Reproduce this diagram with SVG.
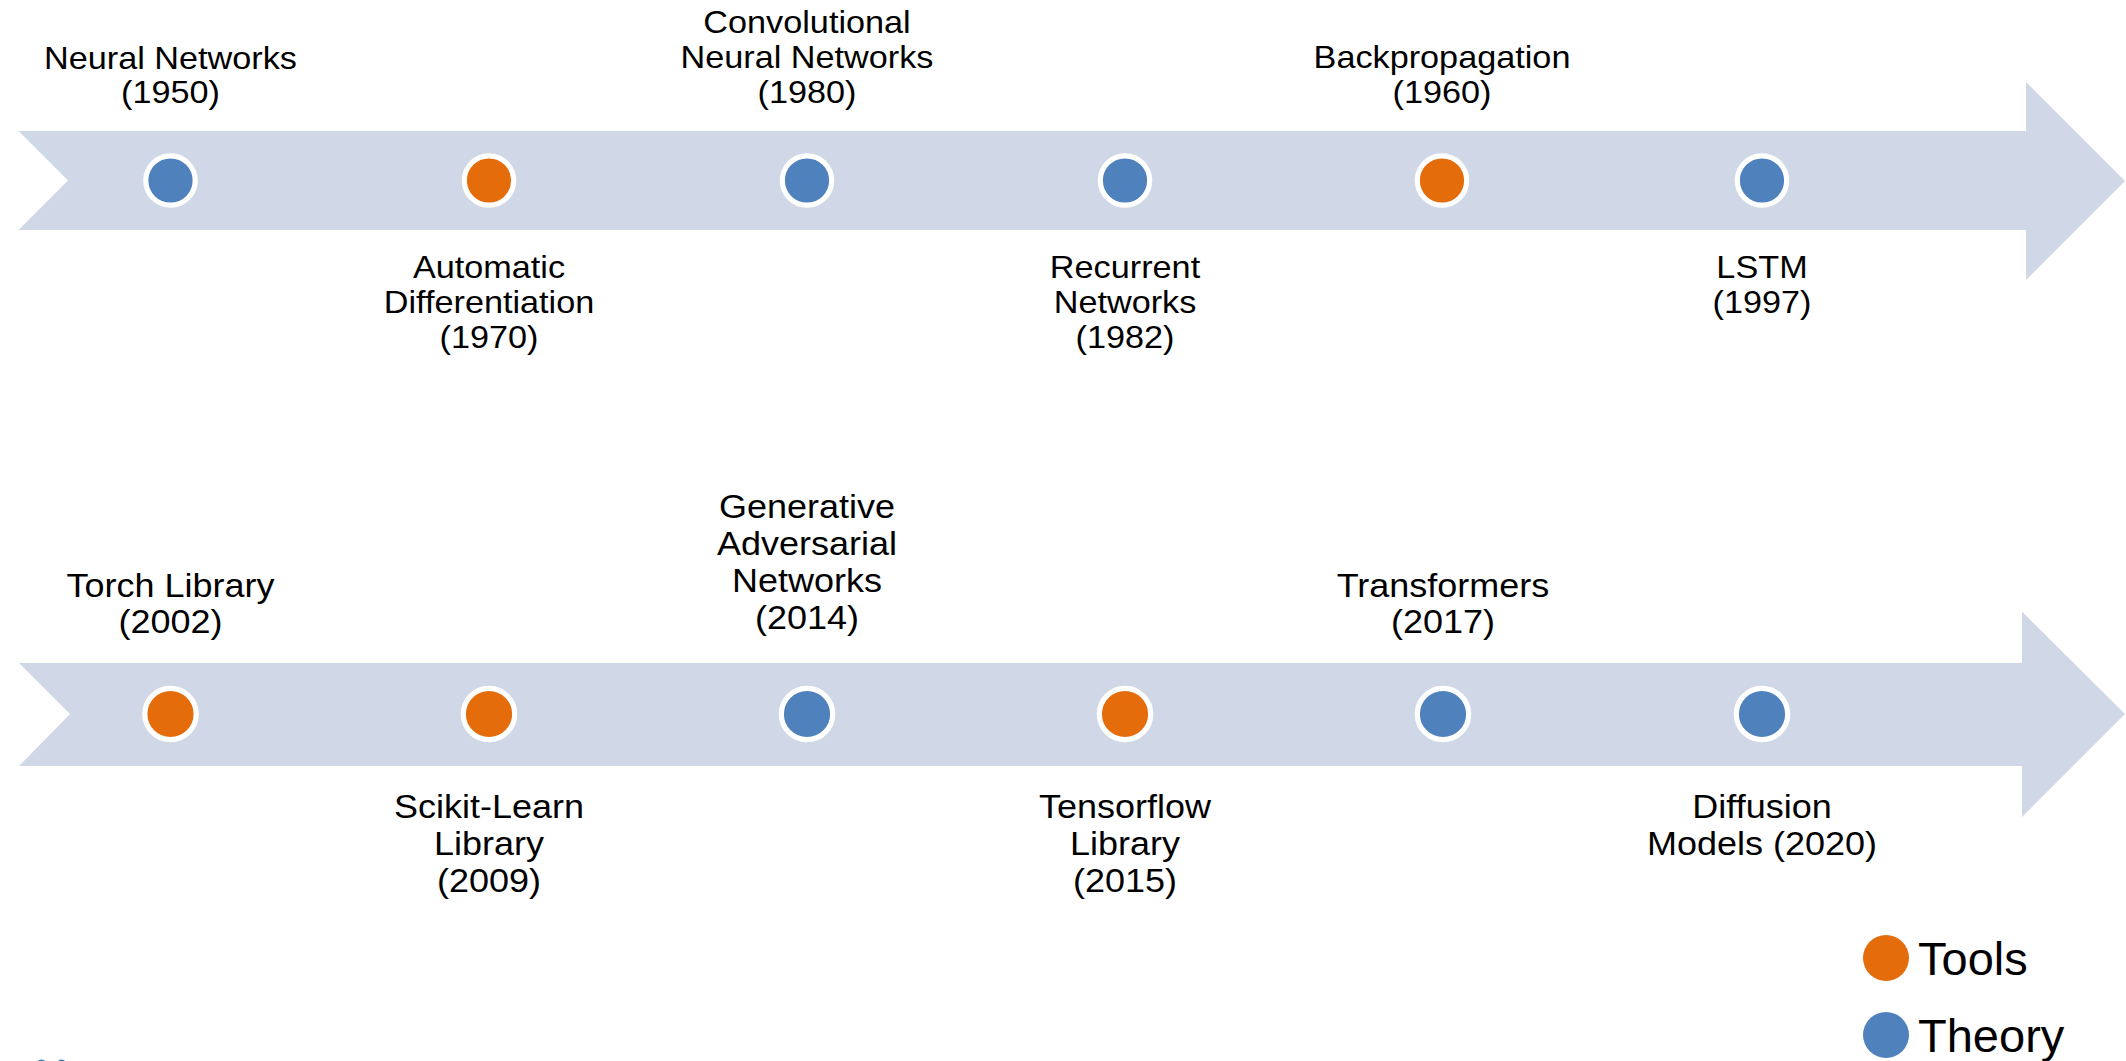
<svg xmlns="http://www.w3.org/2000/svg" width="2126" height="1061" viewBox="0 0 2126 1061">
<style>
.bar{fill:#D0D8E8;}
.tool{fill:#E46C0A;}
.theory{fill:#4F81BD;}
.dot{stroke:#FFFFFF;stroke-width:5.2;}
.t1{font-family:"Liberation Sans",Arial,sans-serif;font-size:32px;fill:#000;text-anchor:middle;}
.t2{font-family:"Liberation Sans",Arial,sans-serif;font-size:33.5px;fill:#000;text-anchor:middle;}
.leg{font-family:"Liberation Sans",Arial,sans-serif;font-size:47px;fill:#000;}
</style>
<rect width="2126" height="1061" fill="#FFFFFF"/>
<g id="connectors">
<polygon id="arrow-top" class="bar" points="18.5,131 2026,131 2026,82 2125,181 2026,280 2026,230 18.5,230 68,180.5"/>
<polygon id="arrow-bottom" class="bar" points="19,663 2022,663 2022,611.5 2125,714 2022,817 2022,766 19,766 70,714"/>
</g>
<g id="node-neural-networks">
<circle class="dot theory" cx="170.5" cy="180.5" r="24.7"/>
<g transform="translate(170.5,0) scale(1.07,1)"><text class="t1" x="0" y="69">Neural Networks</text><text class="t1" x="0" y="103">(1950)</text></g>
</g>
<g id="node-autodiff">
<circle class="dot tool" cx="489" cy="180.5" r="24.7"/>
<g transform="translate(489,0) scale(1.07,1)"><text class="t1" x="0" y="278">Automatic</text><text class="t1" x="0" y="313">Differentiation</text><text class="t1" x="0" y="348">(1970)</text></g>
</g>
<g id="node-cnn">
<circle class="dot theory" cx="807" cy="180.5" r="24.7"/>
<g transform="translate(807,0) scale(1.07,1)"><text class="t1" x="0" y="33.5">Convolutional</text><text class="t1" x="0" y="68.5">Neural Networks</text><text class="t1" x="0" y="103">(1980)</text></g>
</g>
<g id="node-rnn">
<circle class="dot theory" cx="1125" cy="180.5" r="24.7"/>
<g transform="translate(1125,0) scale(1.07,1)"><text class="t1" x="0" y="278">Recurrent</text><text class="t1" x="0" y="313">Networks</text><text class="t1" x="0" y="348">(1982)</text></g>
</g>
<g id="node-backprop">
<circle class="dot tool" cx="1442" cy="180.5" r="24.7"/>
<g transform="translate(1442,0) scale(1.07,1)"><text class="t1" x="0" y="68.5">Backpropagation</text><text class="t1" x="0" y="103">(1960)</text></g>
</g>
<g id="node-lstm">
<circle class="dot theory" cx="1762" cy="180.5" r="24.7"/>
<g transform="translate(1762,0) scale(1.07,1)"><text class="t1" x="0" y="278">LSTM</text><text class="t1" x="0" y="313">(1997)</text></g>
</g>
<g id="node-torch">
<circle class="dot tool" cx="170.5" cy="714" r="25.7"/>
<g transform="translate(170.5,0) scale(1.075,1)"><text class="t2" x="0" y="597">Torch Library</text><text class="t2" x="0" y="633">(2002)</text></g>
</g>
<g id="node-scikit">
<circle class="dot tool" cx="489" cy="714" r="25.7"/>
<g transform="translate(489,0) scale(1.075,1)"><text class="t2" x="0" y="818">Scikit-Learn</text><text class="t2" x="0" y="855">Library</text><text class="t2" x="0" y="892">(2009)</text></g>
</g>
<g id="node-gan">
<circle class="dot theory" cx="807" cy="714" r="25.7"/>
<g transform="translate(807,0) scale(1.075,1)"><text class="t2" x="0" y="518">Generative</text><text class="t2" x="0" y="555">Adversarial</text><text class="t2" x="0" y="592">Networks</text><text class="t2" x="0" y="629">(2014)</text></g>
</g>
<g id="node-tensorflow">
<circle class="dot tool" cx="1125" cy="714" r="25.7"/>
<g transform="translate(1125,0) scale(1.075,1)"><text class="t2" x="0" y="818">Tensorflow</text><text class="t2" x="0" y="855">Library</text><text class="t2" x="0" y="892">(2015)</text></g>
</g>
<g id="node-transformers">
<circle class="dot theory" cx="1443" cy="714" r="25.7"/>
<g transform="translate(1443,0) scale(1.075,1)"><text class="t2" x="0" y="597">Transformers</text><text class="t2" x="0" y="633">(2017)</text></g>
</g>
<g id="node-diffusion">
<circle class="dot theory" cx="1762" cy="714" r="25.7"/>
<g transform="translate(1762,0) scale(1.075,1)"><text class="t2" x="0" y="818">Diffusion</text><text class="t2" x="0" y="855">Models (2020)</text></g>
</g>
<g id="legend">
<circle class="tool" cx="1886" cy="958" r="23"/>
<text class="leg" x="1918" y="975">Tools</text>
<circle class="theory" cx="1886" cy="1035" r="23"/>
<text class="leg" x="1918" y="1052">Theory</text>
</g>
<g id="logo-fragment" fill="none" stroke="#2A7AB5" stroke-width="3">
<ellipse cx="41.5" cy="1074" rx="6.5" ry="13"/>
<ellipse cx="61.5" cy="1074" rx="6.5" ry="13"/>
</g>
</svg>
